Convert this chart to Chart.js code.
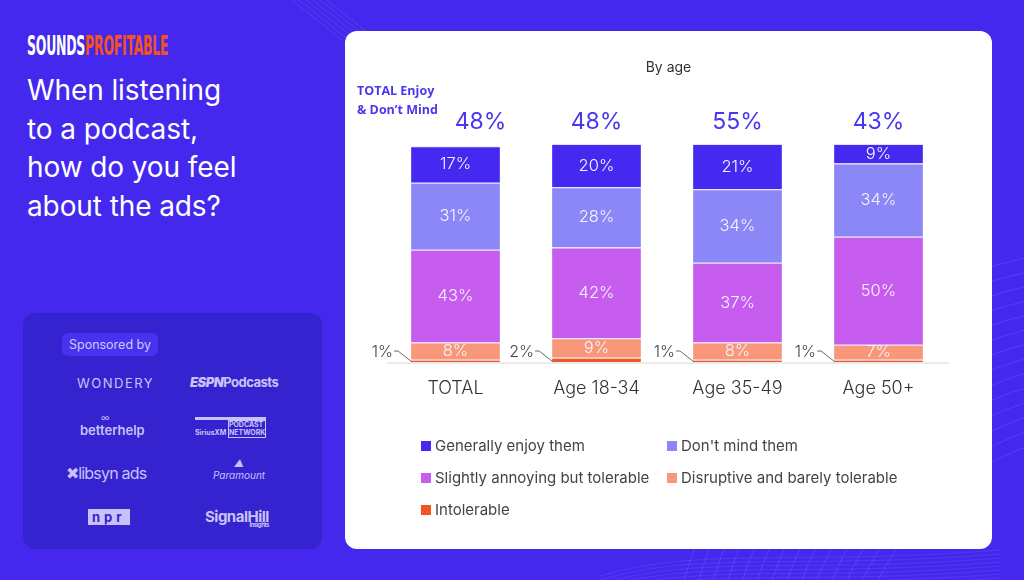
<!DOCTYPE html>
<html>
<head>
<meta charset="utf-8">
<script src="https://cdn.jsdelivr.net/npm/chart.js@4"></script>
<style>
  html, body { margin: 0; padding: 0; }
  body {
    width: 1024px; height: 580px; overflow: hidden; position: relative;
    background: #4428ee; font-family: Inter, "Open Sans", sans-serif;
  }
  #deco { position: absolute; left: 0; top: 0; }
  .logo { position: absolute; left: 27px; top: 30px; font: 700 27px "DejaVu Sans Condensed", sans-serif;
    transform: scaleX(0.515); transform-origin: left top; letter-spacing: -0.5px; white-space: nowrap; }
  .logo .a { color: #fff; } .logo .b { color: #f5521c; }
  .title { position: absolute; left: 27px; top: 71px; color: #fff; font-size: 28px; font-weight: 400;
    line-height: 38.6px; letter-spacing: -0.1px; }
  .spons { position: absolute; left: 23px; top: 313px; width: 299px; height: 236px; border-radius: 12px;
    background: #3523cf; color: #c9c2fa; }
  .pill { position: absolute; left: 39px; top: 20px; width: 96px; height: 23px; border-radius: 6px;
    background: #4832f0; font-size: 12.5px; line-height: 23px; text-align: center; color: #cfc8ff; }
  .lg { position: absolute; white-space: nowrap; color: #c9c2fa; }
  .card { position: absolute; left: 345px; top: 31px; width: 647px; height: 518px; background: #fff;
    border-radius: 12px; }
  #chart { position: absolute; left: 0; top: 0; }
  .byage { position: absolute; left: 0; width: 647px; top: 27px; text-align: center; font-size: 14px; color: #333; }
  .tot { position: absolute; left: 12px; top: 50px; font: 700 12.5px "Open Sans", sans-serif; color: #4a36ee;
    line-height: 19px; }
  .legend { position: absolute; left: 76px; top: 405px; font-size: 15px; color: #444; }
  .legend div { position: absolute; white-space: nowrap; }
  .legend span { display: inline-block; width: 10px; height: 10px; margin-right: 4px; vertical-align: 0px; }
</style>
</head>
<body>
<svg id="deco" width="1024" height="580"></svg>
<div class="logo"><span class="a">SOUNDS</span><span class="b">PROFITABLE</span></div>
<div class="title">When listening<br>to a podcast,<br>how do you feel<br>about the ads?</div>
<div class="spons">
  <div class="pill">Sponsored by</div>
  <div class="lg" style="left:54px;top:62px;font-size:13px;letter-spacing:1.5px;">WONDERY</div>
  <div class="lg" style="left:167px;top:61px;font-size:13px;font-weight:700;letter-spacing:-0.5px;"><i style="font-weight:900">ESPN</i>Podcasts</div>
  <div class="lg" style="left:78px;top:99px;font-size:9px;">&#x221E;</div>
  <div class="lg" style="left:57px;top:109px;font-size:13px;font-weight:600;">betterhelp</div>
  <div class="lg" style="left:172px;top:104px;font-size:7px;font-weight:700;line-height:8px;border-top:3px solid #c9c2fa;">SiriusXM <span style="border:1px solid #c9c2fa;display:inline-block;">PODCAST<br>NETWORK</span></div>
  <div class="lg" style="left:43px;top:150px;font-size:16px;letter-spacing:-0.8px;">&#x2716;libsyn ads</div>
  <div class="lg" style="left:190px;top:144px;font-size:10px;font-style:italic;text-align:center;line-height:12px;">&#x25B2;<br>Paramount</div>
  <div class="lg" style="left:65px;top:196px;font-size:13px;font-weight:700;background:#c9c2fa;color:#3523cf;padding:0 4px;letter-spacing:4px;">npr</div>
  <div class="lg" style="left:182px;top:194px;font-size:15px;font-weight:700;letter-spacing:-0.5px;">SignalHill<div style="font-size:6px;text-align:right;margin-top:-5px;">Insights</div></div>
</div>
<div class="card">
  <canvas id="chart" width="647" height="518"></canvas>
  <div class="byage">By age</div>
  <div class="tot">TOTAL Enjoy<br>&amp; Don’t Mind</div>
  <div class="legend" id="legend"></div>
</div>
<script>
'use strict';

let categories = ['TOTAL', 'Age 18-34', 'Age 35-49', 'Age 50+'];
let seriesNames = ['Intolerable', 'Disruptive and barely tolerable', 'Slightly annoying but tolerable', 'Don\'t mind them', 'Generally enjoy them'];
let intolerable = [1, 2, 1, 1];
let disruptive = [8, 9, 8, 7];
let annoying = [43, 42, 37, 50];
let dontMind = [31, 28, 34, 34];
let enjoy = [17, 20, 21, 9];
let enjoyAndDontMind = [48, 48, 55, 43];
let colors = ['#f5561f', '#f8977a', '#c75def', '#8b87f6', '#4629f0'];

// background lines
const deco = document.getElementById( 'deco' );
let paths = '';
for ( let i = 0; i < 14; i++ ) {
  let r = 270 + i * 14;
  paths += `<circle cx="1120" cy="700" r="${r}" fill="none" stroke="rgba(255,255,255,0.10)" stroke-width="1"/>`;
}
for ( let i = 0; i < 8; i++ ) {
  let yy = 556 + i * 4;
  paths += `<path d="M600 ${yy + 20} C 700 ${yy - 10}, 800 ${yy + 10}, 1000 ${yy - 6}" fill="none" stroke="rgba(255,255,255,0.08)" stroke-width="1"/>`;
}
for ( let i = 0; i < 6; i++ ) {
  paths += `<line x1="${292 + i * 7}" y1="0" x2="${342 + i * 7}" y2="40" stroke="rgba(255,255,255,0.10)" stroke-width="1"/>`;
}
deco.innerHTML = paths;

// legend
const legend = document.getElementById( 'legend' );
let legendOrder = [4, 3, 2, 1, 0];
let pos = [[0, 0], [246, 0], [0, 32], [246, 32], [0, 64]];
for ( let i = 0; i < legendOrder.length; i++ ) {
  let k = legendOrder[i];
  let d = document.createElement( 'div' );
  d.style.left = pos[i][0] + 'px';
  d.style.top = pos[i][1] + 'px';
  d.innerHTML = `<span style="background:${colors[k]}"></span>${seriesNames[k]}`;
  legend.appendChild( d );
}

let allSeries = [intolerable, disruptive, annoying, dontMind, enjoy];
let datasets = [];
for ( let i = 0; i < allSeries.length; i++ ) {
  datasets.push( {
    label: seriesNames[i],
    data: allSeries[i],
    backgroundColor: colors[i],
    borderColor: 'rgba(225,220,255,0.9)',
    borderWidth: { top: 1, left: 0, right: 0, bottom: 0 },
    borderSkipped: false,
    barPercentage: 0.63,
    categoryPercentage: 1
  } );
}

const labelsPlugin = {
  id: 'labels',
  afterDatasetsDraw( chart ) {
    const ctx = chart.ctx;
    const x = chart.scales.x;
    const y = chart.scales.y;
    const base = y.getPixelForValue( 0 );
    ctx.save();
    // baseline
    ctx.strokeStyle = '#ebebeb';
    ctx.lineWidth = 2;
    ctx.beginPath();
    ctx.moveTo( chart.chartArea.left + 2, base + 1 );
    ctx.lineTo( chart.chartArea.right, base + 1 );
    ctx.stroke();

    ctx.textAlign = 'center';
    ctx.textBaseline = 'middle';
    for ( let d = 0; d < chart.data.datasets.length; d++ ) {
      const meta = chart.getDatasetMeta( d );
      meta.data.forEach( ( bar, i ) => {
        const v = chart.data.datasets[d].data[i];
        if ( d === 0 ) {
          const left = bar.x - bar.width / 2;
          ctx.font = '300 16px Inter';
          ctx.fillStyle = '#444';
          ctx.textAlign = 'right';
          ctx.fillText( v + '%', left - 18, base - 10 );
          ctx.strokeStyle = '#666';
          ctx.lineWidth = 1;
          ctx.beginPath();
          ctx.moveTo( left - 17, base - 11 );
          ctx.lineTo( left - 13, base - 11 );
          ctx.lineTo( left + 1, base );
          ctx.stroke();
          ctx.textAlign = 'center';
        } else {
          ctx.font = '300 16.5px Inter';
          ctx.fillStyle = '#f7f4ff';
          ctx.fillText( v + '%', bar.x, ( bar.y + bar.base ) / 2 );
        }
      } );
    }
    // totals above the bars (the first one sits right of the caption)
    const topMeta = chart.getDatasetMeta( chart.data.datasets.length - 1 );
    ctx.font = '400 23px Inter';
    ctx.fillStyle = '#4a36ee';
    topMeta.data.forEach( ( bar, i ) => {
      let shift = i === 0 ? 25 : 0;
      ctx.fillText( enjoyAndDontMind[i] + '%', bar.x + shift, y.getPixelForValue( 101 ) - 22 );
    } );
    // category labels
    ctx.font = '300 18px Inter';
    ctx.fillStyle = '#333';
    categories.forEach( ( c, i ) => {
      ctx.fillText( c, x.getPixelForValue( i ), base + 27 );
    } );
    ctx.restore();
  }
};

let ctx = document.getElementById( 'chart' ).getContext( '2d' );
// eslint-disable-next-line no-unused-vars
let myChart = new Chart( ctx, {
  type: 'bar',
  data: { labels: categories, datasets: datasets },
  options: {
    responsive: false,
    animation: false,
    layout: { padding: { left: 40, right: 43, top: 113, bottom: 187 } },
    plugins: { legend: { display: false }, tooltip: { enabled: false } },
    scales: {
      x: { stacked: true, display: false },
      y: { stacked: true, display: false, min: 0, max: 101 }
    }
  },
  plugins: [labelsPlugin]
} );
</script>
</body>
</html>
